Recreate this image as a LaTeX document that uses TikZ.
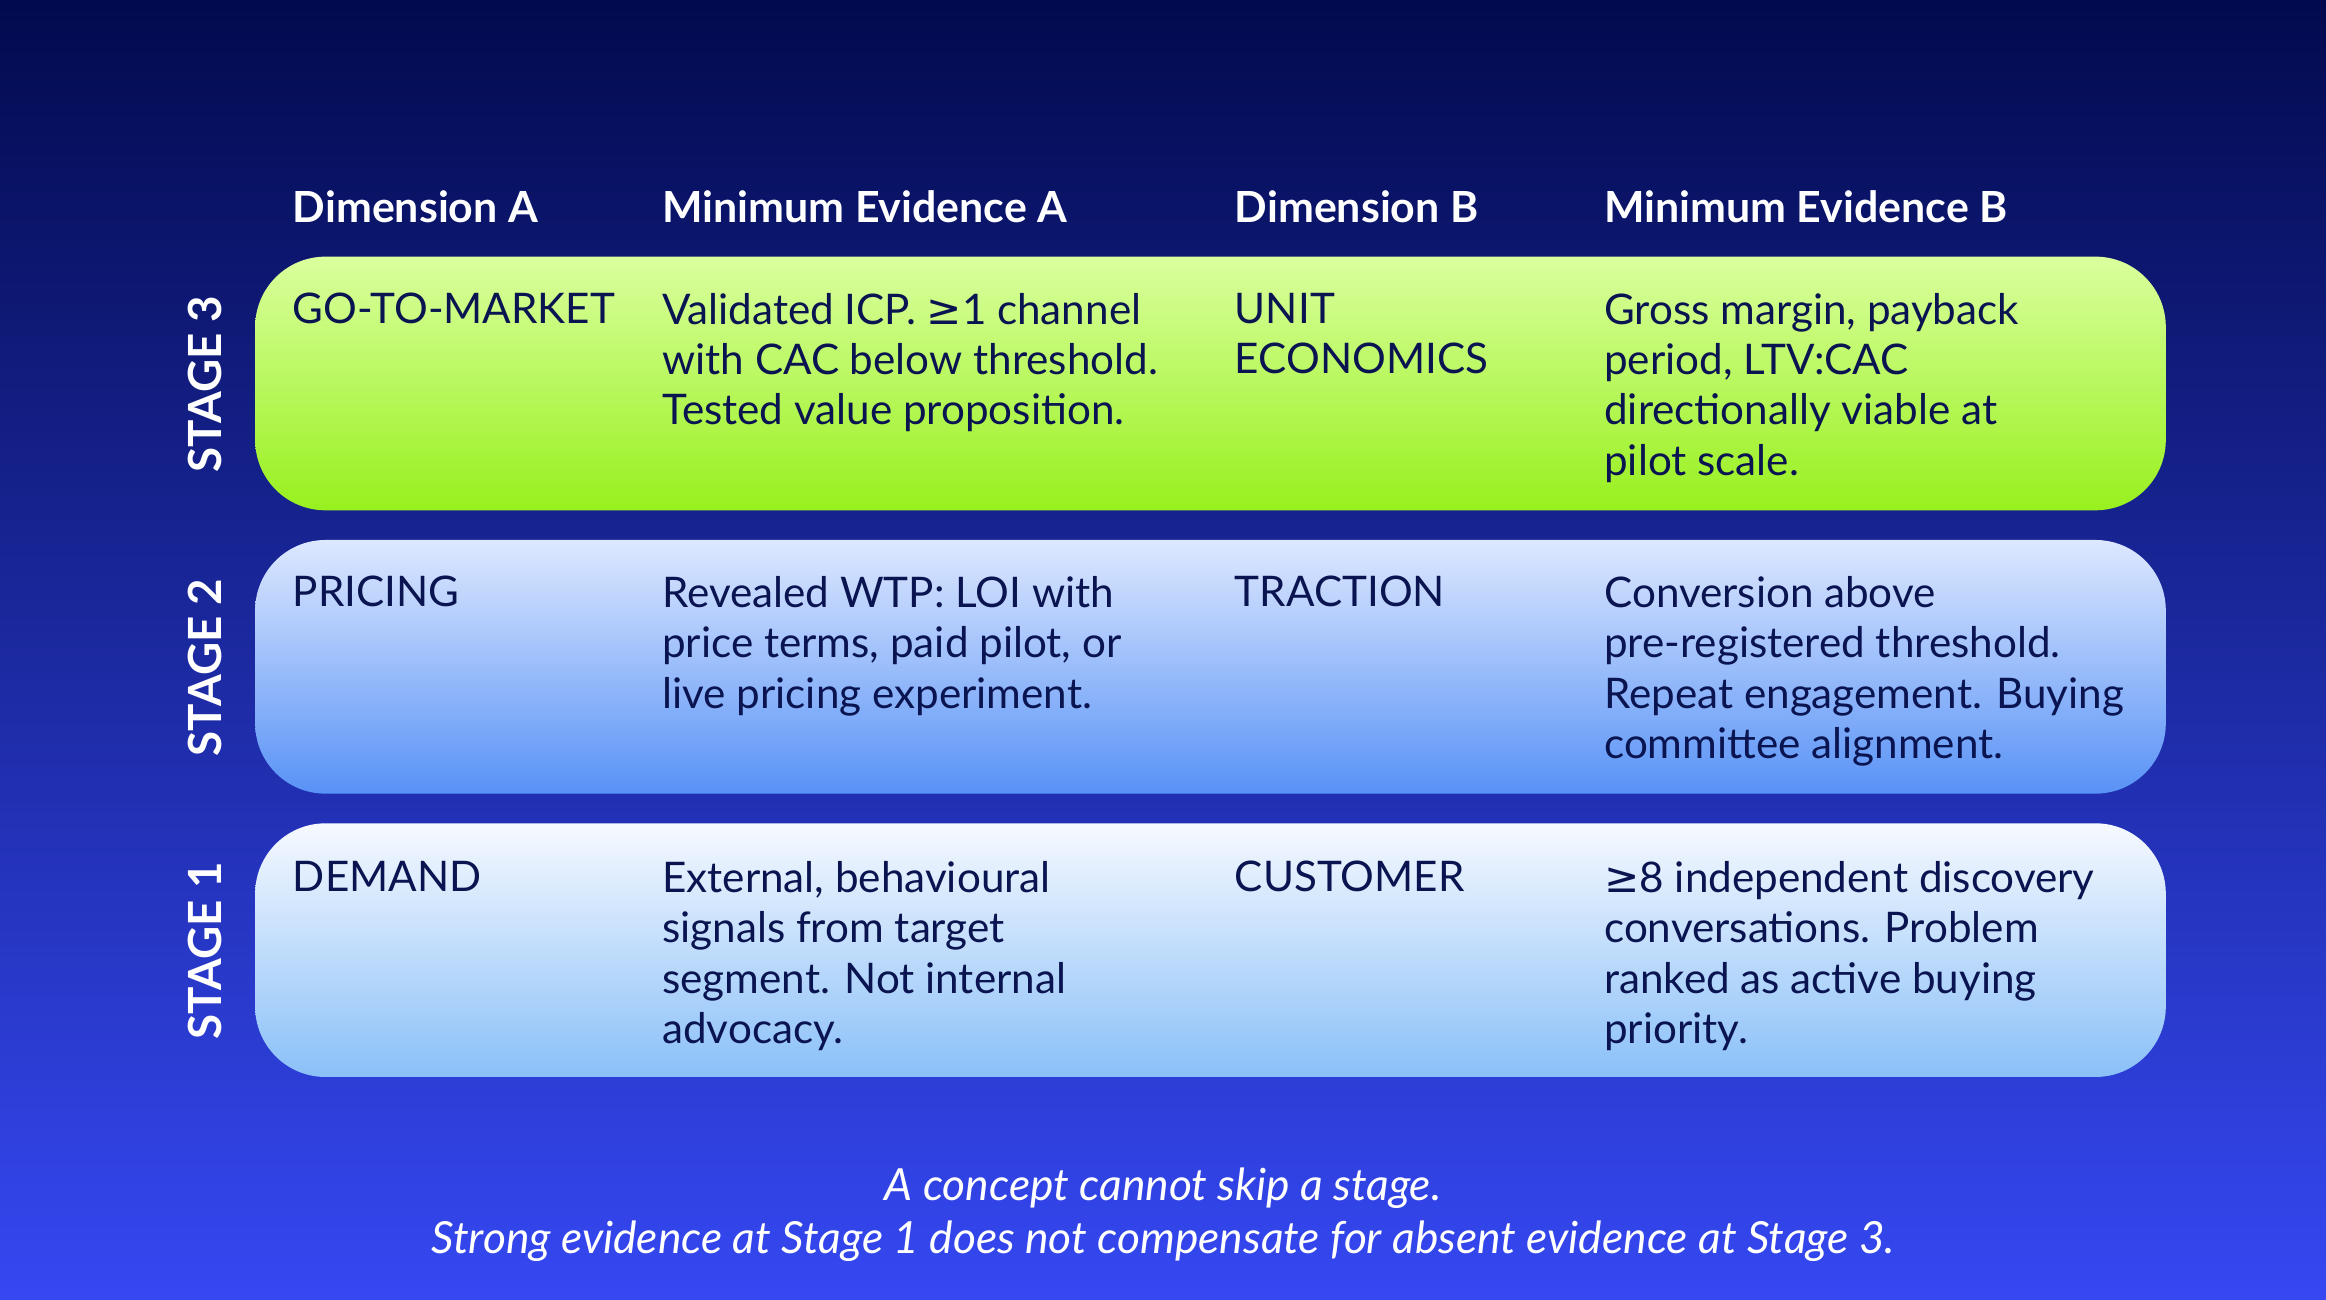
\documentclass[tikz,border=0pt]{standalone}
\usepackage{fontspec}
\setmainfont{Lato}
\newfontfamily\sym{DejaVu Sans}
\begin{document}
\begin{tikzpicture}[x=0.014834cm,y=-0.014834cm,
  cell/.style={anchor=north west,align=left,inner sep=0pt,text=ink,font=\fontsize{12}{14.35}\selectfont},
  head/.style={anchor=base west,inner sep=0pt,text=white,font=\fontsize{12.2}{15}\selectfont\bfseries},
  stage/.style={rotate=90,text=white,font=\fontsize{13}{15}\selectfont\bfseries,inner sep=0pt},
  foot/.style={text=white,font=\fontsize{12.6}{14}\selectfont\itshape,inner sep=0pt}]
\definecolor{ink}{HTML}{0A1450}
\definecolor{bgtop}{HTML}{020A4E}
\definecolor{bgbot}{HTML}{3548F2}
\definecolor{g3t}{HTML}{DAFF9E}\definecolor{g3b}{HTML}{98F01E}
\definecolor{g2t}{HTML}{DDE8FF}\definecolor{g2b}{HTML}{5892F6}
\definecolor{g1t}{HTML}{F6F9FF}\definecolor{g1b}{HTML}{8AC0F8}
\useasboundingbox (0,0) rectangle (1568,876);
\shade[top color=bgtop,bottom color=bgbot] (0,0) rectangle (1568,876);
\shade[rounded corners=20pt,top color=g3t,bottom color=g3b] (172,173) rectangle (1460,344);
\shade[rounded corners=20pt,top color=g2t,bottom color=g2b] (172,364) rectangle (1460,535);
\shade[rounded corners=20pt,top color=g1t,bottom color=g1b] (172,555) rectangle (1460,726);
\node[head] (h1) at (197,150) {Dimension A};
\node[head] (h2) at (446,150) {Minimum Evidence A};
\node[head] (h3) at (832,150) {Dimension B};
\node[head] (h4) at (1081,150) {Minimum Evidence B};
\node[stage] (s3) at (138,259) {STAGE 3};
\node[stage] (s2) at (138,450) {STAGE 2};
\node[stage] (s1) at (138,641) {STAGE 1};
\node[cell] (a3) at (197,197) {GO-TO-MARKET};
\node[cell] (b3) at (446,197) {Validated ICP. {\sym ≥}1 channel\\with CAC below threshold.\\Tested value proposition.};
\node[cell] (c3) at (832,197) {UNIT\\ECONOMICS};
\node[cell] (d3) at (1081,197) {Gross margin, payback\\period, LTV:CAC\\directionally viable at\\pilot scale.};
\node[cell] (a2) at (197,388) {PRICING};
\node[cell] (b2) at (446,388) {Revealed WTP: LOI with\\price terms, paid pilot, or\\live pricing experiment.};
\node[cell] (c2) at (832,388) {TRACTION};
\node[cell] (d2) at (1081,388) {Conversion above\\pre-registered threshold.\\Repeat engagement. Buying\\committee alignment.};
\node[cell] (a1) at (197,580) {DEMAND};
\node[cell] (b1) at (446,580) {External, behavioural\\signals from target\\segment. Not internal\\advocacy.};
\node[cell] (c1) at (832,580) {CUSTOMER};
\node[cell] (d1) at (1081,580) {{\sym ≥}8 independent discovery\\conversations. Problem\\ranked as active buying\\priority.};
\node[foot] (f1) at (784,801) {A concept cannot skip a stage.};
\node[foot] (f2) at (784,837) {Strong evidence at Stage 1 does not compensate for absent evidence at Stage 3.};
\end{tikzpicture}
\end{document}
